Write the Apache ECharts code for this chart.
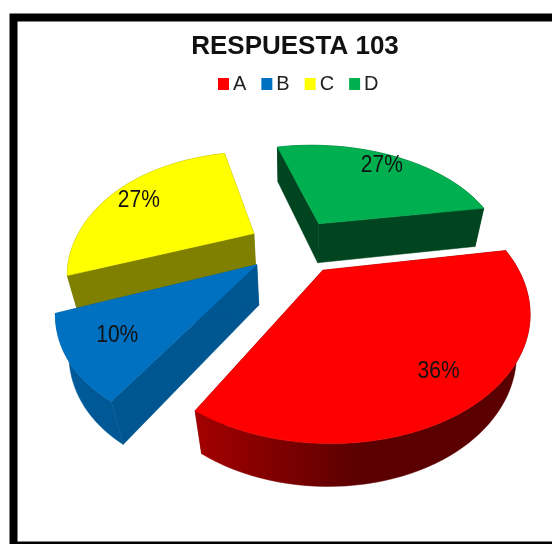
<!DOCTYPE html>
<html>
<head>
<meta charset="utf-8">
<style>
  html, body { margin: 0; padding: 0; background: #fff; }
  #chart { width: 552px; height: 544px; }
</style>
<script src="https://cdn.jsdelivr.net/npm/echarts@6/dist/echarts.min.js"></script>
</head>
<body>
<div id="chart"></div>
<script>
const categories = ['A', 'B', 'C', 'D']
const values = [36, 10, 27, 27]

const topColors = ['#ff0000', '#0070c0', '#ffff00', '#00b050']
const sideColors = ['#5c0000', '#005690', '#808000', '#00451f']
const wallStops = [['#a40000', '#5a0000'], ['#005c9c', '#004f85'], ['#808000', '#808000'], ['#00451f', '#00451f']]

// camera for the tilted pie
const cam = { cx: 292, cy: 248, f: 587, D: 3.11, sin: 0.591, cos: 0.806 }
const depth = 0.276
const explode = 0.25
const startDeg = -10
// the 3d view in the original skews the slice edges a little, degrees per edge
const edgeNudge = [-0.5, 1.5, 3.2, 3.5, -0.5]
// and it draws the left side of the pie a bit narrower
const leftSqueeze = 0.05
// slice tips sit slightly up and right of the computed point, in pixels
const tipNudge = [2.5, -2]
// radius and angle shift of each percent label, on the top face
const labelPlace = [[0.80, -0.5], [0.76, -0.5], [0.78, 0.2], [0.84, -0.25]]

function project (X, Y, Z) {
  const yc = Y * cam.sin - Z * cam.cos
  const zc = cam.D - Y * cam.cos - Z * cam.sin
  return [cam.cx + cam.f * X / zc, cam.cy + cam.f * yc / zc]
}

const total = values.reduce((a, b) => a + b, 0)

function sliceRange (i) {
  let before = 0
  for (let k = 0; k < i; k++) before += values[k]
  const a0 = startDeg + before / total * 360
  return [a0 + edgeNudge[i], a0 + values[i] / total * 360 + edgeNudge[i + 1]]
}

function renderSlice (i) {
  return function (params, api) {
    const value = api.value(0)
    const [a0, a1] = sliceRange(i)
    const mid = (a0 + a1) / 2 * Math.PI / 180
    const ox = Math.cos(mid) * explode
    const oy = Math.sin(mid) * explode
    const arc = z => {
      const pts = []
      const steps = 60
      for (let s = 0; s <= steps; s++) {
        const t = (a0 + (a1 - a0) * s / steps) * Math.PI / 180
        const c = Math.min(0, Math.cos(t))
        const r = 1 - leftSqueeze * Math.pow(c, 4)
        pts.push(project(ox + r * Math.cos(t), oy + r * Math.sin(t), z))
      }
      return pts
    }
    const topArc = arc(0)
    const lowArc = arc(-depth)
    const tip = z => {
      const p = project(ox, oy, z)
      return [p[0] + tipNudge[0], p[1] + tipNudge[1]]
    }
    const apexTop = tip(0)
    const apexLow = tip(-depth)
    const poly = (points, fill) => ({
      type: 'polygon',
      shape: { points },
      style: { fill, stroke: fill, lineWidth: 0.5 }
    })
    const xs = topArc.map(p => p[0])
    const wallFill = new echarts.graphic.LinearGradient(
      Math.min(...xs), 0, Math.min(...xs) + 165, 0,
      [{ offset: 0, color: wallStops[i][0] }, { offset: 1, color: wallStops[i][1] }],
      true
    )
    const children = [
      poly([apexTop, topArc[0], lowArc[0], apexLow], sideColors[i]),
      poly([apexTop, topArc[60], lowArc[60], apexLow], sideColors[i]),
      poly(topArc.concat(lowArc.slice().reverse()), wallFill),
      poly([apexTop].concat(topArc), topColors[i])
    ]
    const la = mid + labelPlace[i][1] * Math.PI / 180
    const lp = project(ox + Math.cos(la) * labelPlace[i][0], oy + Math.sin(la) * labelPlace[i][0], 0)
    children.push({
      type: 'text',
      x: lp[0],
      y: lp[1],
      scaleY: 1.12,
      style: {
        text: Math.round(value / total * 100) + '%',
        font: '21px "Liberation Sans", Arial, sans-serif',
        fill: '#111',
        align: 'center',
        verticalAlign: 'middle'
      }
    })
    return { type: 'group', children }
  }
}

// far slices are painted first
const drawOrder = [3, 2, 1, 0]

const chart = echarts.init(document.getElementById('chart'))
chart.setOption({
  animation: false,
  backgroundColor: '#fff',
  title: {
    text: 'RESPUESTA 103',
    left: 290,
    top: 29,
    textAlign: 'center',
    textStyle: { fontFamily: '"Liberation Sans", Arial, sans-serif', fontWeight: 'bold', fontSize: 26, color: '#111' }
  },
  legend: {
    data: categories,
    left: 213,
    top: 69,
    icon: 'rect',
    itemWidth: 11,
    itemHeight: 12,
    itemGap: 15,
    selectedMode: false,
    textStyle: { fontFamily: '"Liberation Sans", Arial, sans-serif', fontSize: 20, color: '#222', padding: [0, 0, 0, -1] }
  },
  graphic: [{
    type: 'rect',
    z: -10,
    shape: { x: 13.5, y: 17.5, width: 600, height: 528 },
    style: { fill: '#fff', stroke: '#000', lineWidth: 8 }
  }],
  series: drawOrder.map(i => ({
    type: 'custom',
    name: categories[i],
    coordinateSystem: 'none',
    itemStyle: { color: topColors[i] },
    renderItem: renderSlice(i),
    data: [[values[i]]]
  }))
})
</script>
</body>
</html>
